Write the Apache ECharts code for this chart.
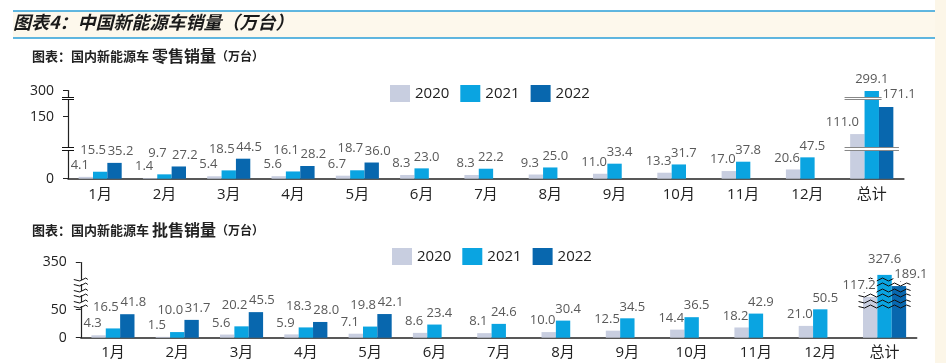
<!DOCTYPE html>
<html><head><meta charset="utf-8">
<script src="https://cdn.jsdelivr.net/npm/echarts@6.0.0/dist/echarts.min.js"></script>
<style>html,body{margin:0;padding:0;background:#fff}#c{width:946px;height:363px}</style>
</head><body><div id="c"></div>
<script>
// ---------- data ----------
const months = ['1月','2月','3月','4月','5月','6月','7月','8月','9月','10月','11月','12月'];
const totalCategory = ['总计'];
const seriesNames = ['2020','2021','2022'];

const retail2020 = [4.1, 1.4, 5.4, 5.6, 6.7, 8.3, 8.3, 9.3, 11.0, 13.3, 17.0, 20.6];
const retail2021 = [15.5, 9.7, 18.5, 16.1, 18.7, 23.0, 22.2, 25.0, 33.4, 31.7, 37.8, 47.5];
const retail2022 = [35.2, 27.2, 44.5, 28.2, 36.0, null, null, null, null, null, null, null];
const retailTotals = [111.0, 299.1, 171.1];

const wholesale2020 = [4.3, 1.5, 5.6, 5.9, 7.1, 8.6, 8.1, 10.0, 12.5, 14.4, 18.2, 21.0];
const wholesale2021 = [16.5, 10.0, 20.2, 18.3, 19.8, 23.4, 24.6, 30.4, 34.5, 36.5, 42.9, 50.5];
const wholesale2022 = [41.8, 31.7, 45.5, 28.0, 42.1, null, null, null, null, null, null, null];
const wholesaleTotals = [117.2, 327.6, 189.1];

const retailTicks = [0, 150, 300];
const wholesaleTicks = [0, 50, 350];

// ---------- style ----------
const FONT = "'Open Sans','Noto Sans CJK SC',sans-serif";
const CJK = "'Noto Sans CJK SC',sans-serif";
const COLORS = ['#c8cee0', '#0aa4e1', '#0867ae'];
const LABEL_COLOR = '#595959';
const AXIS_COLOR = '#222';

const grids = [], xAxes = [], yAxes = [], series = [];
const fmt = p => (p.value == null ? '' : Number(p.value).toFixed(1));

function buildPanel(cfg) {
  const mk = () => cfg.breaks.map(b => ({ start: b[0], end: b[1], gap: cfg.gap }));
  const allCats = months.concat(totalCategory);
  const n = allCats.length;
  const totalCenter = cfg.left + cfg.band * (n - 0.5);

  const gL = grids.length;
  grids.push({ left: cfg.left, top: cfg.top, width: cfg.band * n, height: cfg.height, outerBoundsMode: 'none', containLabel: false });
  const gR = grids.length;
  grids.push({ left: totalCenter - cfg.totalWidth / 2, top: cfg.top, width: cfg.totalWidth, height: cfg.height, outerBoundsMode: 'none', containLabel: false });
  const gS = grids.length;
  grids.push({ left: cfg.left - cfg.strip / 2, top: cfg.top, width: cfg.strip, height: cfg.height, outerBoundsMode: 'none', containLabel: false });

  const xL = xAxes.length;
  xAxes.push({
    type: 'category', gridIndex: gL, data: allCats,
    axisLine: { show: true, lineStyle: { color: AXIS_COLOR, width: 1.5 } },
    axisTick: { show: false },
    axisLabel: { interval: 0, fontSize: 15, color: AXIS_COLOR, margin: cfg.xMargin, fontFamily: FONT }
  });
  const xR = xAxes.length;
  xAxes.push({ type: 'category', gridIndex: gR, data: totalCategory, show: false });
  const xR2 = xAxes.length;
  xAxes.push({ type: 'category', gridIndex: gR, data: totalCategory, show: false });
  xAxes.push({ type: 'value', gridIndex: gS, show: false, min: 0, max: 1 });

  const yBase = (idx) => ({
    type: 'value', gridIndex: idx, min: 0, max: cfg.max, breaks: mk(),
    splitLine: { show: false }, axisLabel: { show: false }, axisTick: { show: false },
    axisLine: { show: false }, breakArea: { show: false }
  });
  const breakStyle = (fill) => ({
    show: true, expandOnClick: false, zigzagAmplitude: cfg.zig.amp, zigzagMinSpan: cfg.zig.span, zigzagMaxSpan: cfg.zig.span, zigzagZ: 100,
    itemStyle: { color: fill, borderColor: '#111', borderWidth: 1, borderType: 'solid', opacity: 1 }
  });
  const yLi = yAxes.length;
  const yL = yBase(gL);
  yL.axisLine = { show: true, lineStyle: { color: AXIS_COLOR, width: 1.2 } };
  yL.axisTick = { show: true, customValues: cfg.ticks, length: 5, lineStyle: { color: AXIS_COLOR } };
  yL.axisLabel = { show: true, customValues: cfg.ticks, margin: 14, fontSize: 14, color: AXIS_COLOR, fontFamily: FONT };
  yAxes.push(yL);
  const yRi = yAxes.length;
  const yR = yBase(gR);
  yR.breakArea = breakStyle(cfg.breakFill);
  yAxes.push(yR);
  const yS = yBase(gS);
  yS.breakArea = breakStyle('rgba(255,255,255,0)');
  yAxes.push(yS);

  const labelBase = { show: true, position: 'top', fontSize: 13, color: LABEL_COLOR, fontFamily: FONT, formatter: fmt };
  const totalLabel = Object.assign({}, labelBase, { backgroundColor: '#ffffff', padding: [0, 1, 0, 1] });
  cfg.data.forEach((vals, j) => {
    const items = vals.map((v, i) => {
      let off;
      if (j === 0) off = [-6, 0];
      else if (j === 1) off = (cfg.data[2][i] != null) ? [-7, -10] : [5, 0];
      else off = [6, 0];
      return { value: v, label: { offset: off } };
    }).concat([null]);
    series.push({
      type: 'bar', name: seriesNames[j], xAxisIndex: xL, yAxisIndex: yLi, data: items,
      barGap: '0%', barCategoryGap: '33%', itemStyle: { color: COLORS[j] }, label: labelBase
    });
    series.push({
      type: 'bar', name: seriesNames[j], xAxisIndex: xR, yAxisIndex: yRi,
      data: [cfg.totals[j]],
      barGap: '0%', barCategoryGap: cfg.totalGap, itemStyle: { color: COLORS[j] }, label: { show: false }
    });
    series.push({
      type: 'bar', name: seriesNames[j], xAxisIndex: xR2, yAxisIndex: yRi, zlevel: 1, silent: true,
      data: [{ value: cfg.totals[j], label: { offset: cfg.totalOffsets[j] } }],
      barGap: '0%', barCategoryGap: cfg.totalGap, itemStyle: { color: 'rgba(0,0,0,0)' }, label: totalLabel
    });
  });
}

buildPanel({
  top: 90.7, height: 88, left: 68, band: 64.3, strip: 12, max: 300, ticks: retailTicks,
  breaks: [[64, 81.6], [187.6, 286]], gap: '3%', xMargin: 9, breakFill: '#ffffff',
  totalWidth: 54, totalGap: '20%',
  zig: { amp: 0, span: 200 }, data: [retail2020, retail2021, retail2022], totals: retailTotals,
  totalOffsets: [[-15, 0], [0, 0], [13, -1]]
});
buildPanel({
  top: 262.3, height: 75.4, left: 80.8, band: 64.3, strip: 14, max: 350, ticks: wholesaleTicks,
  breaks: [[56, 110], [120, 182], [192, 320]], gap: '7%', xMargin: 8, breakFill: 'rgba(255,255,255,0)',
  totalWidth: 52, totalGap: '17%',
  zig: { amp: 1.5, span: 6 }, data: [wholesale2020, wholesale2021, wholesale2022], totals: wholesaleTotals,
  totalOffsets: [[-11, 0], [0, -4], [12, 0]]
});

const legendBase = {
  data: seriesNames, icon: 'rect', itemWidth: 20, itemHeight: 17, itemGap: 11,
  textStyle: { fontSize: 15, color: '#222', fontFamily: FONT }
};

const option = {
  animation: false,
  backgroundColor: '#ffffff',
  textStyle: { fontFamily: FONT },
  graphic: [
    { type: 'rect', z: -10, silent: true, shape: { x: 13, y: 11, width: 922, height: 27 }, style: { fill: '#fdf8ec' } },
    { type: 'rect', z: -10, silent: true, shape: { x: 935, y: 0, width: 11, height: 363 }, style: { fill: '#fcf6e8' } },
    { type: 'line', z: -9, silent: true, shape: { x1: 13, y1: 11, x2: 935, y2: 11 }, style: { stroke: '#2a9fd8', lineWidth: 1.5 } },
    { type: 'line', z: -9, silent: true, shape: { x1: 13, y1: 38, x2: 935, y2: 38 }, style: { stroke: '#2a9fd8', lineWidth: 1.5 } }
  ],
  title: [
    { text: '图表4：中国新能源车销量（万台）', left: 13, top: 13, padding: 0,
      textStyle: { fontSize: 18, fontStyle: 'italic', fontWeight: 'bold', color: '#1a1a1a', fontFamily: CJK } },
    { text: '{a|图表：国内新能源车 }{b|零售销量}{c|（万台）}', left: 32, top: 48, padding: 0,
      textStyle: { rich: {
        a: { fontSize: 13, fontWeight: 'bold', color: '#222', fontFamily: CJK },
        b: { fontSize: 16, fontWeight: 'bold', color: '#222', fontFamily: CJK },
        c: { fontSize: 12, fontWeight: 'bold', color: '#222', fontFamily: CJK } } } },
    { text: '{a|图表：国内新能源车 }{b|批售销量}{c|（万台）}', left: 32, top: 222, padding: 0,
      textStyle: { rich: {
        a: { fontSize: 13, fontWeight: 'bold', color: '#222', fontFamily: CJK },
        b: { fontSize: 16, fontWeight: 'bold', color: '#222', fontFamily: CJK },
        c: { fontSize: 12, fontWeight: 'bold', color: '#222', fontFamily: CJK } } } }
  ],
  legend: [
    Object.assign({}, legendBase, { left: 390, top: 85, padding: 0 }),
    Object.assign({}, legendBase, { left: 392, top: 248, padding: 0 })
  ],
  grid: grids,
  xAxis: xAxes,
  yAxis: yAxes,
  series: series
};

const chart = echarts.init(document.getElementById('c'), null, { renderer: 'canvas' });
chart.setOption(option);
</script>
</body></html>
